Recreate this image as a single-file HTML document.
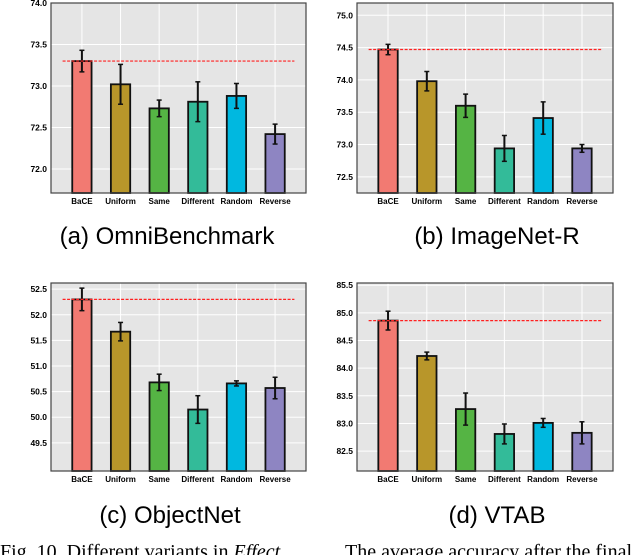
<!DOCTYPE html>
<html><head><meta charset="utf-8"><style>
body{margin:0;background:#fff;width:640px;height:555px;overflow:hidden;font-family:"Liberation Sans",sans-serif}
svg{position:absolute;left:0;top:0}
</style></head><body>
<svg id="c" width="640" height="555">
<text x="167" y="244" font-size="24" text-anchor="middle">(a) OmniBenchmark</text>
<text x="497" y="244" font-size="24" text-anchor="middle">(b) ImageNet-R</text>
<text x="170" y="523" font-size="24" text-anchor="middle">(c) ObjectNet</text>
<text x="497" y="523" font-size="24" text-anchor="middle">(d) VTAB</text>
<text x="0" y="558" font-size="20" font-family="Liberation Serif,serif">Fig. 10.  Different variants in <tspan font-style="italic">Effect</tspan></text>
<text x="345" y="558" font-size="20" font-family="Liberation Serif,serif">The average accuracy after the final</text>
</svg>
<script>
const categories=["BaCE","Uniform","Same","Different","Random","Reverse"];
const colors=["#f27a72","#b8962a","#55b444","#33bb99","#00b8e0","#8e85c2"];
const valuesA=[73.30,73.02,72.73,72.81,72.88,72.42];
const errA=[0.13,0.24,0.10,0.24,0.15,0.12];
const valuesB=[74.47,73.98,73.60,72.94,73.41,72.94];
const errB=[0.08,0.15,0.18,0.20,0.25,0.06];
const valuesC=[52.30,51.67,50.68,50.15,50.66,50.57];
const errC=[0.22,0.18,0.16,0.27,0.05,0.21];
const valuesD=[84.86,84.22,83.26,82.81,83.01,82.83];
const errD=[0.17,0.07,0.29,0.18,0.08,0.20];
const ticksA=["72.0","72.5","73.0","73.5","74.0"];
const ticksB=["72.5","73.0","73.5","74.0","74.5","75.0"];
const ticksC=["49.5","50.0","50.5","51.0","51.5","52.0","52.5"];
const ticksD=["82.5","83.0","83.5","84.0","84.5","85.0","85.5"];
const svg=document.getElementById('c');
const NS="http://www.w3.org/2000/svg";
function mk(t,a,p){const e=document.createElementNS(NS,t);for(const k in a)e.setAttribute(k,a[k]);(p||svg).appendChild(e);return e;}
function panel(id,x0,x1,y0,y1,ymin,ymax,vals,errs,ticks){
  const g=mk('g',{});
  
  
  const ys=v=>y1-(v-ymin)/(ymax-ymin)*(y1-y0);
  const step=(x1-x0)/6.6;
  const xs=i=>x0+step*(0.8+i);
  mk('rect',{x:x0,y:y0,width:x1-x0,height:y1-y0,fill:'#e5e5e5'},g);
  ticks.forEach(t=>{const y=ys(+t);
    mk('line',{x1:x0,x2:x1,y1:y,y2:y,stroke:'#fff','stroke-width':1},g);
    const tx=mk('text',{x:x0-4,y:y+3,'font-size':8.5,'font-weight':'bold','text-anchor':'end'},g);
    
    
    tx.textContent=t;});
  categories.forEach((c,i)=>{mk('line',{x1:xs(i),x2:xs(i),y1:y0,y2:y1,stroke:'#fff','stroke-width':1},g);});
  vals.forEach((v,i)=>{const bw=step*0.5,x=xs(i);
    const r=mk('rect',{x:x-bw/2,y:ys(v),width:bw,height:y1-ys(v),fill:colors[i],stroke:'#111','stroke-width':1.8},g);
    
    
    const e=errs[i];
    mk('line',{x1:x,x2:x,y1:ys(v+e),y2:ys(v-e),stroke:'#111','stroke-width':2},g);
    mk('line',{x1:x-2.5,x2:x+2.5,y1:ys(v+e),y2:ys(v+e),stroke:'#111','stroke-width':1.5},g);
    mk('line',{x1:x-2.5,x2:x+2.5,y1:ys(v-e),y2:ys(v-e),stroke:'#111','stroke-width':1.5},g);
    const tx=mk('text',{x:x,y:y1+11,'font-size':8,'font-weight':'bold','text-anchor':'middle'},g);
    
    
    tx.textContent=categories[i];});
  const ref=mk('line',{x1:xs(0)-step*0.5,x2:xs(5)+step*0.5,y1:ys(vals[0]),y2:ys(vals[0]),stroke:'#ff2020','stroke-width':1.2,'stroke-dasharray':'3,1.5'},g);
  
  
  mk('rect',{x:x0,y:y0,width:x1-x0,height:y1-y0,fill:'none',stroke:'#444','stroke-width':1.2},g);
}
panel('a',51,306,3,193,71.71,74.0,valuesA,errA,ticksA);
panel('b',357,613,3,193,72.25,75.19,valuesB,errB,ticksB);
panel('c',51,306,283,471,48.95,52.62,valuesC,errC,ticksC);
panel('d',357,613,283,471,82.14,85.54,valuesD,errD,ticksD);
</script>
</body></html>
